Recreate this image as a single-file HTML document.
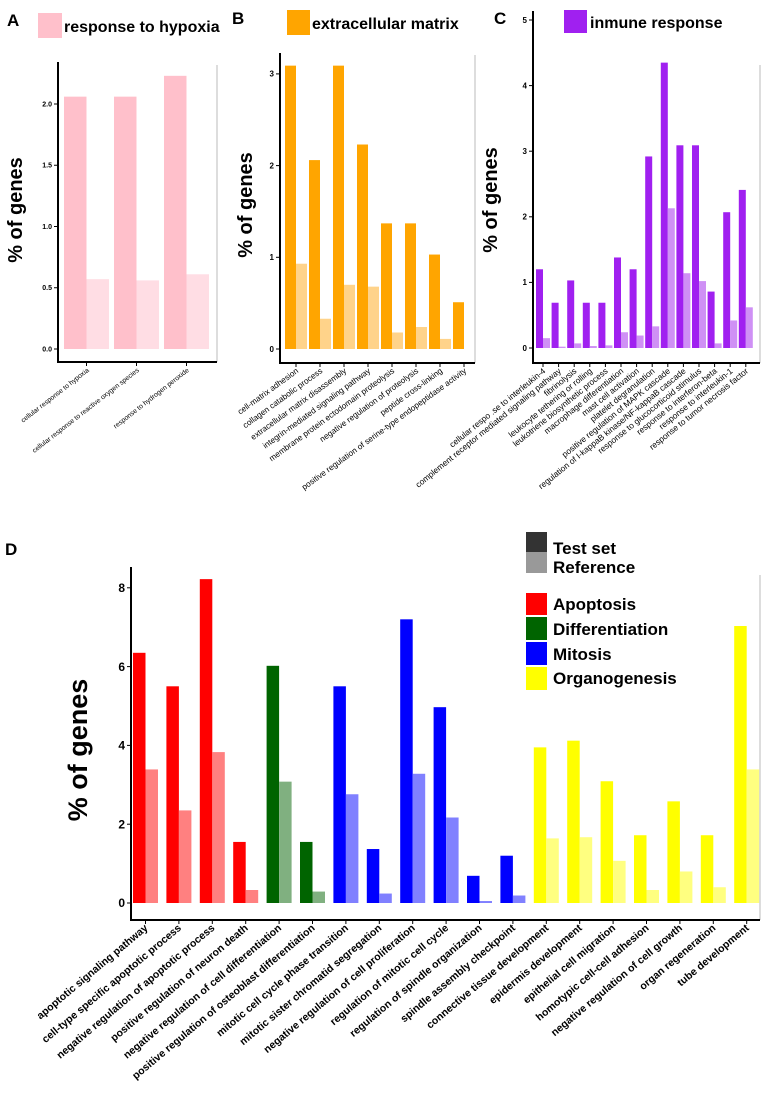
<!DOCTYPE html>
<html><head><meta charset="utf-8"><style>
html,body{margin:0;padding:0;background:#fff}
svg{display:block;font-family:"Liberation Sans",sans-serif}
</style></head><body>
<svg id="fig" width="765" height="1102" viewBox="0 0 765 1102" xmlns="http://www.w3.org/2000/svg">
<g font-weight="bold" font-size="17">
<text x="7" y="26">A</text>
<text x="232" y="24">B</text>
<text x="494" y="24">C</text>
<text x="5" y="555">D</text>
</g>
<g><rect x="38" y="13" width="24" height="25" fill="#ffc0cb"/><text x="64" y="32" font-size="16" font-weight="bold">response to hypoxia</text></g>
<g><rect x="287" y="10" width="23" height="25" fill="#ffa500"/><text x="312" y="29" font-size="16" font-weight="bold">extracellular matrix</text></g>
<g><rect x="564" y="10" width="23" height="23" fill="#a020f0"/><text x="590" y="28" font-size="16" font-weight="bold">inmune response</text></g>
<g font-size="17" font-weight="bold">
<rect x="526" y="532" width="21" height="20" fill="#333"/><rect x="526" y="552" width="21" height="21" fill="#999"/>
<text x="553" y="554">Test set</text><text x="553" y="573">Reference</text>
<rect x="526" y="593" width="21" height="22" fill="#ff0000"/><text x="553" y="610">Apoptosis</text>
<rect x="526" y="617" width="21" height="23" fill="#006400"/><text x="553" y="635">Differentiation</text>
<rect x="526" y="642" width="21" height="23" fill="#0000ff"/><text x="553" y="660">Mitosis</text>
<rect x="526" y="667" width="21" height="23" fill="#ffff00"/><text x="553" y="684">Organogenesis</text>
</g>
</svg>
<script>
const aCats=["cellular response to hypoxia","cellular response to reactive oxygen species","response to hydrogen peroxide"];
const aTest=[2.06,2.06,2.23];
const aRef=[0.57,0.56,0.61];
const aTicks=["0.0","0.5","1.0","1.5","2.0"];
const aTickVals=[0,0.5,1,1.5,2];
const bCats=["cell-matrix adhesion","collagen catabolic process","extracellular matrix disassembly","integrin-mediated signaling pathway","membrane protein ectodomain proteolysis","negative regulation of proteolysis","peptide cross-linking","positive regulation of serine-type endopeptidase activity"];
const bTest=[3.09,2.06,3.09,2.23,1.37,1.37,1.03,0.51];
const bRef=[0.93,0.33,0.70,0.68,0.18,0.24,0.11,0.0];
const bTickVals=[0,1,2,3];
const cCats=["cellular respo .se to interleukin-4","complement receptor mediated signaling pathway","fibrinolysis","leukocyte tethering or rolling","leukotriene biosynthetic process","macrophage differentiation","mast cell activation","platelet degranulation","positive regulation of MAPK cascade","regulation of I-kappaB kinase/NF-kappaB cascade","response to glucocorticoid stimulus","response to interferon-beta","response to interleukin-1","response to tumor necrosis factor"];
const cTest=[1.2,0.69,1.03,0.69,0.69,1.38,1.2,2.92,4.35,3.09,3.09,0.86,2.07,2.41];
const cRef=[0.15,0.02,0.07,0.03,0.04,0.24,0.19,0.33,2.13,1.14,1.02,0.07,0.42,0.62];
const cTickVals=[0,1,2,3,4,5];
const dCats=["apoptotic signaling pathway","cell-type specific apoptotic process","negative regulation of apoptotic process","positive regulation of neuron death","negative regulation of cell differentiation","positive regulation of osteoblast differentiation","mitotic cell cycle phase transition","mitotic sister chromatid segregation","negative regulation of cell proliferation","regulation of mitotic cell cycle","regulation of spindle organization","spindle assembly checkpoint","connective tissue development","epidermis development","epithelial cell migration","homotypic cell-cell adhesion","negative regulation of cell growth","organ regeneration","tube development"];
const dGroup=["A","A","A","A","D","D","M","M","M","M","M","M","O","O","O","O","O","O","O"];
const dTest=[6.35,5.5,8.22,1.55,6.02,1.55,5.5,1.37,7.2,4.97,0.69,1.2,3.95,4.12,3.09,1.72,2.58,1.72,7.03];
const dRef=[3.39,2.35,3.83,0.33,3.08,0.29,2.76,0.24,3.28,2.17,0.05,0.19,1.64,1.67,1.07,0.33,0.8,0.4,3.39];
const dTickVals=[0,2,4,6,8];

const NS="http://www.w3.org/2000/svg";
const svg=document.getElementById('fig');
function mk(tag,attrs,parent){const e=document.createElementNS(NS,tag);for(const k in attrs)e.setAttribute(k,attrs[k]);(parent||svg).appendChild(e);return e;}

function panel(p,cats,test,ref,tickVals,tickLabels,colT,colR){
  const g=mk('g',{});
  
  
  const y=v=>p.y0-v*p.ppu;
  const x=i=>p.x0+i*p.gw;
  mk('line',{x1:p.right,y1:p.borderTop,x2:p.right,y2:p.bottom,stroke:'#bbb','stroke-width':1},g);
  for(let i=0;i<cats.length;i++){
    const ct=typeof colT==='function'?colT(i):colT, cr=typeof colR==='function'?colR(i):colR;
    const r1=mk('rect',{x:x(i),y:y(test[i]),width:p.bw,height:Math.max(0,test[i]*p.ppu),fill:ct},g);
    
    
    const r2=mk('rect',{x:x(i)+p.bw,y:y(ref[i]),width:p.bw,height:Math.max(0,ref[i]*p.ppu),fill:cr},g);
    
    
    const cx=x(i)+p.bw;
    mk('line',{x1:cx,y1:p.bottom,x2:cx,y2:p.bottom+4,stroke:'#000','stroke-width':1},g);
    const t=mk('text',{x:cx+3,y:p.bottom+p.ly,'text-anchor':'end','font-size':p.lfs,'font-weight':p.lfw||'normal',transform:`rotate(${p.rot} ${cx+3} ${p.bottom+p.ly})`},g);
    t.textContent=cats[i];
    
    
  }
  tickVals.forEach((v,k)=>{
    mk('line',{x1:p.axisX-4,y1:y(v),x2:p.axisX,y2:y(v),stroke:'#000','stroke-width':1},g);
    const t=mk('text',{x:p.axisX-6,y:y(v)+p.tfs*0.35,'text-anchor':'end','font-size':p.tfs,'font-weight':'bold'},g);
    t.textContent=tickLabels?tickLabels[k]:String(v);
    
    
  });
  mk('line',{x1:p.axisX,y1:p.top,x2:p.axisX,y2:p.bottom+1,stroke:'#000','stroke-width':2},g);
  mk('line',{x1:p.axisX-1,y1:p.bottom,x2:p.right,y2:p.bottom,stroke:'#000','stroke-width':2},g);
  const yt=mk('text',{x:p.ytx,y:p.yty,'text-anchor':'middle','font-size':p.ytfs,'font-weight':'bold',transform:`rotate(-90 ${p.ytx} ${p.yty})`},g);
  yt.textContent='% of genes';
  
  
}
panel({name:'panel-a-hypoxia',axisX:58,top:62,bottom:362,borderTop:65,right:217,y0:349,ppu:122.5,x0:64,gw:50,bw:22.5,rot:-38,ly:9,lfs:6.8,tfs:7,ytx:22,yty:210,ytfs:20},aCats,aTest,aRef,aTickVals,aTicks,'#ffc0cb','#ffdde4');
panel({name:'panel-b-extracellular-matrix',axisX:280,top:53,bottom:363,borderTop:55,right:475,y0:349,ppu:91.7,x0:285,gw:24,bw:11,rot:-36,ly:9,lfs:8.2,tfs:8,ytx:252,yty:205,ytfs:20},bCats,bTest,bRef,bTickVals,null,'#ffa500','#ffd38a');
panel({name:'panel-c-immune-response',axisX:533,top:11,bottom:363,borderTop:65,right:760,y0:348,ppu:65.6,x0:536,gw:15.6,bw:7,rot:-39,ly:9,lfs:8.4,tfs:8,ytx:497,yty:200,ytfs:20},cCats,cTest,cRef,cTickVals,null,'#a020f0','#cf90f5');
const gc={A:['#ff0000','#ff8080'],D:['#006400','#80b080'],M:['#0000ff','#8080ff'],O:['#ffff00','#ffff80']};
panel({name:'panel-d-categories',axisX:131,top:567,bottom:920,borderTop:575,right:760,y0:903,ppu:39.4,x0:133,gw:33.4,bw:12.5,rot:-40,ly:9,lfs:10.5,lfw:'bold',tfs:12,ytx:87,yty:750,ytfs:27},dCats,dTest,dRef,dTickVals,null,i=>gc[dGroup[i]][0],i=>gc[dGroup[i]][1]);
</script>
</body></html>
